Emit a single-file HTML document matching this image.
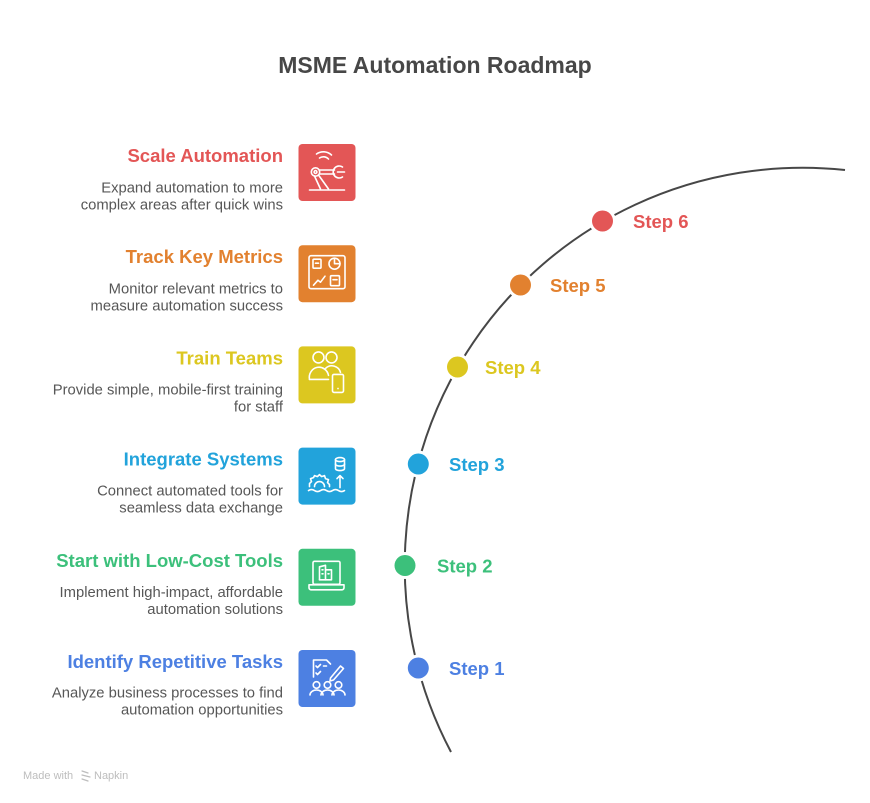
<!DOCTYPE html>
<html>
<head>
<meta charset="utf-8">
<style>
  html, body { margin: 0; padding: 0; background: #ffffff; }
  body { width: 870px; height: 803px; overflow: hidden; }
  svg { display: block; }
  .t { font-family: "Liberation Sans", Arial, sans-serif; font-weight: bold; font-size: 18.5px; }
  .d { font-family: "Liberation Sans", Arial, sans-serif; font-size: 14.8px; fill: #575757; }
  .s { font-family: "Liberation Sans", Arial, sans-serif; font-weight: bold; font-size: 18.5px; }
  .ic { fill: none; stroke: #ffffff; stroke-width: 1.6; stroke-linecap: round; stroke-linejoin: round; }
</style>
</head>
<body>
<svg width="870" height="803" viewBox="0 0 870 803" xmlns="http://www.w3.org/2000/svg">
  <rect width="870" height="803" fill="#ffffff"/>

  <!-- Title -->
  <text x="435" y="73" text-anchor="middle" font-family="Liberation Sans, Arial, sans-serif" font-weight="bold" font-size="23" fill="#474747">MSME Automation Roadmap</text>

  <!-- Arc -->
  <path d="M 451 752 A 398 398 0 0 1 845 170" fill="none" stroke="#474747" stroke-width="2"/>

  <!-- Dots -->
  <g>
    <circle cx="602.5" cy="221" r="13.5" fill="#ffffff"/>
    <circle cx="602.5" cy="221" r="10.5" fill="#E35656"/>
    <circle cx="520.5" cy="285" r="13.5" fill="#ffffff"/>
    <circle cx="520.5" cy="285" r="10.5" fill="#E2812F"/>
    <circle cx="457.5" cy="367" r="13.5" fill="#ffffff"/>
    <circle cx="457.5" cy="367" r="10.5" fill="#DCC720"/>
    <circle cx="418.3" cy="464" r="13.5" fill="#ffffff"/>
    <circle cx="418.3" cy="464" r="10.5" fill="#22A3DB"/>
    <circle cx="405" cy="565.5" r="13.5" fill="#ffffff"/>
    <circle cx="405" cy="565.5" r="10.5" fill="#3CC07B"/>
    <circle cx="418.3" cy="668" r="13.5" fill="#ffffff"/>
    <circle cx="418.3" cy="668" r="10.5" fill="#4D80E2"/>
  </g>

  <!-- Step labels -->
  <text class="s" x="633" y="228" fill="#E35656">Step 6</text>
  <text class="s" x="550" y="292" fill="#E2812F">Step 5</text>
  <text class="s" x="485" y="374" fill="#DCC720">Step 4</text>
  <text class="s" x="449" y="471" fill="#22A3DB">Step 3</text>
  <text class="s" x="437" y="572.5" fill="#3CC07B">Step 2</text>
  <text class="s" x="449" y="675" fill="#4D80E2">Step 1</text>

  <!-- Item 1: Scale Automation -->
  <text class="t" x="283" y="162" text-anchor="end" fill="#E35656">Scale Automation</text>
  <text class="d" x="283" y="192.5" text-anchor="end">Expand automation to more</text>
  <text class="d" x="283" y="209.5" text-anchor="end">complex areas after quick wins</text>
  <rect x="298.5" y="144" width="57" height="57" rx="4" fill="#E35656"/>
  <g class="ic" transform="translate(298.5,144)">
    <path d="M 21 14 A 7 7 0 0 1 30 15"/>
    <path d="M 18 10 A 12 12 0 0 1 33 11"/>
    <circle cx="17" cy="28" r="4.2"/>
    <circle cx="17" cy="28" r="1.4"/>
    <path d="M 21 26 L 36 26 M 21 30 L 36 30"/>
    <path d="M 44 23 A 6 6 0 1 0 44 33"/>
    <path d="M 39 28 L 46 28"/>
    <path d="M 16 32 L 22 45 M 20 31 L 30 45"/>
    <path d="M 11 46 L 46 46"/>
  </g>

  <!-- Item 2: Track Key Metrics -->
  <text class="t" x="283" y="263.2" text-anchor="end" fill="#E2812F">Track Key Metrics</text>
  <text class="d" x="283" y="293.5" text-anchor="end">Monitor relevant metrics to</text>
  <text class="d" x="283" y="310.5" text-anchor="end">measure automation success</text>
  <rect x="298.5" y="245.2" width="57" height="57" rx="4" fill="#E2812F"/>
  <g class="ic" transform="translate(298.5,245.2)">
    <rect x="10.5" y="10.5" width="36" height="33" rx="2"/>
    <rect x="14.5" y="14" width="8" height="9" rx="1"/>
    <path d="M 17 18 L 20 18"/>
    <circle cx="36" cy="18.5" r="5.5"/>
    <path d="M 36 18.5 L 36 13 M 36 18.5 L 41.5 18.5"/>
    <path d="M 15 40 L 19.5 35 L 22 37 L 26.5 31"/>
    <rect x="32" y="30.5" width="9" height="10" rx="1"/>
    <path d="M 34.5 34.5 L 38.5 34.5"/>
  </g>

  <!-- Item 3: Train Teams -->
  <text class="t" x="283" y="364.4" text-anchor="end" fill="#DCC720">Train Teams</text>
  <text class="d" x="283" y="394.5" text-anchor="end">Provide simple, mobile-first training</text>
  <text class="d" x="283" y="411.5" text-anchor="end">for staff</text>
  <rect x="298.5" y="346.4" width="57" height="57" rx="4" fill="#DCC720"/>
  <g class="ic" transform="translate(298.5,346.4)">
    <circle cx="20" cy="11" r="5.5"/>
    <circle cx="33" cy="11" r="5.5"/>
    <path d="M 11 33 A 9.5 10 0 0 1 30 29"/>
    <path d="M 11 33 L 30 33"/>
    <path d="M 27 22 A 9 9 0 0 1 42 26"/>
    <rect x="34" y="28" width="11" height="18" rx="1.5"/>
    <path d="M 39.5 42 L 39.5 42.2"/>
  </g>

  <!-- Item 4: Integrate Systems -->
  <text class="t" x="283" y="465.6" text-anchor="end" fill="#22A3DB">Integrate Systems</text>
  <text class="d" x="283" y="495.5" text-anchor="end">Connect automated tools for</text>
  <text class="d" x="283" y="512.5" text-anchor="end">seamless data exchange</text>
  <rect x="298.5" y="447.6" width="57" height="57" rx="4" fill="#22A3DB"/>
  <g class="ic" transform="translate(298.5,447.6)">
    <ellipse cx="41.5" cy="12" rx="4.5" ry="2"/>
    <path d="M 37 12 L 37 21 A 4.5 2 0 0 0 46 21 L 46 12"/>
    <path d="M 37 16.5 A 4.5 2 0 0 0 46 16.5"/>
    <path d="M 41.5 40 L 41.5 28 M 38.5 31 L 41.5 28 L 44.5 31"/>
    <path d="M 11 39 L 11 36 L 13 34 L 12 31 L 15 30 L 16 28 L 19 29 L 21 27 L 23 29 L 26 28 L 27 31 L 30 32 L 29 35 L 31 37 L 31 39"/>
    <path d="M 16 39 A 5 5 0 0 1 26 39"/>
    <path d="M 10 43 Q 13 41 16 43 T 22 43 T 28 43 T 34 43 T 40 43 T 46 43"/>
  </g>

  <!-- Item 5: Start with Low-Cost Tools -->
  <text class="t" x="283" y="566.8" text-anchor="end" fill="#3CC07B">Start with Low-Cost Tools</text>
  <text class="d" x="283" y="596.8" text-anchor="end">Implement high-impact, affordable</text>
  <text class="d" x="283" y="613.8" text-anchor="end">automation solutions</text>
  <rect x="298.5" y="548.8" width="57" height="57" rx="4" fill="#3CC07B"/>
  <g class="ic" transform="translate(298.5,548.8)">
    <rect x="14.5" y="12.5" width="27" height="23" rx="1.5"/>
    <path d="M 10.5 36 L 45.5 36 L 45.5 39 A 2 2 0 0 1 43.5 41 L 12.5 41 A 2 2 0 0 1 10.5 39 Z"/>
    <path d="M 21 31 L 21 18 L 27 16.5 L 27 31"/>
    <path d="M 27 21 L 33 21 L 33 31 L 21 31"/>
    <path d="M 23.5 21 L 24.5 21 M 23.5 25 L 24.5 25 M 29.5 25 L 30.5 25"/>
  </g>

  <!-- Item 6: Identify Repetitive Tasks -->
  <text class="t" x="283" y="668" text-anchor="end" fill="#4D80E2">Identify Repetitive Tasks</text>
  <text class="d" x="283" y="697.5" text-anchor="end">Analyze business processes to find</text>
  <text class="d" x="283" y="714.5" text-anchor="end">automation opportunities</text>
  <rect x="298.5" y="650" width="57" height="57" rx="4" fill="#4D80E2"/>
  <g class="ic" transform="translate(298.5,650)">
    <path d="M 15 27 L 15 10 L 28 10 L 32 14"/>
    <path d="M 17.5 16 L 19 17.5 L 22 14.5"/>
    <path d="M 17.5 23 L 19 24.5 L 22 21.5"/>
    <path d="M 25 16 L 28 16"/>
    <path d="M 32 28 L 42 16 L 45 18.5 L 35 30 L 31.5 31 Z"/>
    <circle cx="18" cy="35" r="3.3"/>
    <circle cx="29" cy="35" r="3.3"/>
    <circle cx="40" cy="35" r="3.3"/>
    <path d="M 11.5 45 A 6.5 5 0 0 1 24.5 45"/>
    <path d="M 22.5 45 A 6.5 5 0 0 1 35.5 45"/>
    <path d="M 33.5 45 A 6.5 5 0 0 1 46.5 45"/>
  </g>

  <!-- Footer -->
  <text x="23" y="779" font-family="Liberation Sans, Arial, sans-serif" font-size="11" fill="#bdbdbd">Made with</text>
  <g fill="none" stroke="#bdbdbd" stroke-width="1.2" stroke-linecap="round">
    <path d="M 82 771 L 88 773 M 82 775 L 90 777 M 82 779 L 88 781"/>
  </g>
  <text x="94" y="779" font-family="Liberation Sans, Arial, sans-serif" font-size="11" fill="#bdbdbd">Napkin</text>
</svg>
</body>
</html>
